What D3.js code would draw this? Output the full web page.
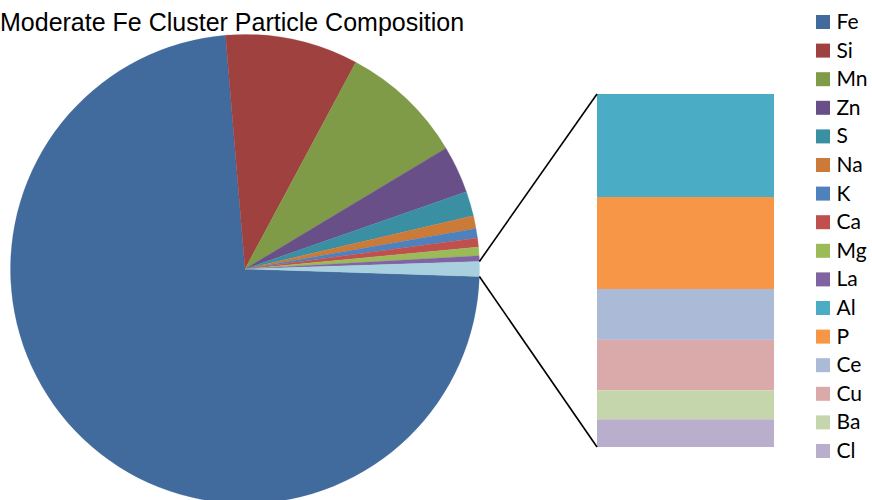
<!DOCTYPE html>
<html>
<head>
<meta charset="utf-8">
<script src="https://cdn.jsdelivr.net/npm/d3@7"></script>
<style>
  html, body { margin: 0; padding: 0; background: #fff; }
  svg { display: block; }
</style>
</head>
<body>
<svg id="chart" width="872" height="500"></svg>
<script>
// ---- data ----
const categories = ["Fe","Si","Mn","Zn","S","Na","K","Ca","Mg","La","Al","P","Ce","Cu","Ba","Cl"];
const values = [73.19, 9.16, 8.55, 3.27, 1.71, 0.87, 0.66, 0.62, 0.59, 0.39, 0.298, 0.266, 0.147, 0.146, 0.084, 0.080];
const colors = ["#416B9D","#9F413E","#7F9B48","#694F87","#3A8FA3","#CC7A37",
                "#4F81BD","#C0504D","#9BBB59","#8064A2","#4BACC6","#F79646",
                "#AABAD7","#D9AAA9","#C6D6AC","#B9AECB"];
const otherColor = "#A8D0DF";
const splitIndex = 10; // items from this index go into the bar
const title = "Moderate Fe Cluster Particle Composition";

// ---- setup ----
const svg = d3.select("#chart");

const pieItems = categories.slice(0, splitIndex).map((c, i) => ({name: c, value: values[i], color: colors[i]}));
const barItems = categories.slice(splitIndex).map((c, i) => ({name: c, value: values[splitIndex + i], color: colors[splitIndex + i]}));
const otherSum = d3.sum(barItems, d => d.value);
pieItems.push({name: "Other", value: otherSum, color: otherColor});

const total = d3.sum(pieItems, d => d.value);
const otherAngle = 2 * Math.PI * otherSum / total;
const start = Math.PI / 2 + otherAngle / 2;

const cx = 245, cy = 269, R = 234.5;

const pie = d3.pie().value(d => d.value).sort(null)
  .startAngle(start).endAngle(start + 2 * Math.PI);
const arcs = pie(pieItems);
const arc = d3.arc().innerRadius(0).outerRadius(R);

const g = svg.append("g").attr("transform", `translate(${cx},${cy})`);
g.selectAll("path").data(arcs).enter().append("path")
  .attr("d", arc)
  .attr("fill", d => d.data.color)
  .attr("stroke", d => d.data.color)
  .attr("stroke-width", 0.3);

// ---- bar of pie ----
const barX0 = 597, barX1 = 774, barTop = 94, barBottom = 447;
const y = d3.scaleLinear().domain([0, otherSum]).range([barTop, barBottom]);
let acc = 0;
const stacked = barItems.map(d => { const o = {...d, y0: acc, y1: acc + d.value}; acc += d.value; return o; });
svg.append("g").selectAll("rect").data(stacked).enter().append("rect")
  .attr("x", barX0)
  .attr("width", barX1 - barX0)
  .attr("y", d => y(d.y0))
  .attr("height", d => y(d.y1) - y(d.y0))
  .attr("fill", d => d.color);

// connectors
const oArc = arcs[arcs.length - 1];
const pt = a => [cx + R * Math.sin(a), cy - R * Math.cos(a)];
const p1 = pt(oArc.startAngle), p2 = pt(oArc.endAngle);
svg.append("line").attr("x1", p1[0]).attr("y1", p1[1]).attr("x2", barX0).attr("y2", y(0))
  .attr("stroke", "#000").attr("stroke-width", 1.6);
svg.append("line").attr("x1", p2[0]).attr("y1", p2[1]).attr("x2", barX0).attr("y2", y(otherSum))
  .attr("stroke", "#000").attr("stroke-width", 1.6);

// ---- title ----
svg.append("text")
  .attr("x", 0).attr("y", 31)
  .attr("font-family", "'Liberation Sans', Arial, sans-serif")
  .attr("font-size", 25)
  .attr("fill", "#000")
  .text(title);

// ---- legend ----
const legend = svg.append("g");
const ly = d3.scaleLinear().domain([0, 1]).range([15, 43.6]);
const items = legend.selectAll("g").data(categories).enter().append("g")
  .attr("transform", (d, i) => `translate(816,${ly(i)})`);
items.append("rect").attr("width", 14).attr("height", 14).attr("fill", (d, i) => colors[i]);
items.append("text").attr("x", 20.5).attr("y", 14)
  .attr("font-family", "Lato, 'Open Sans', sans-serif")
  .attr("font-size", 21)
  .attr("fill", "#000")
  .text(d => d);
</script>
</body>
</html>
